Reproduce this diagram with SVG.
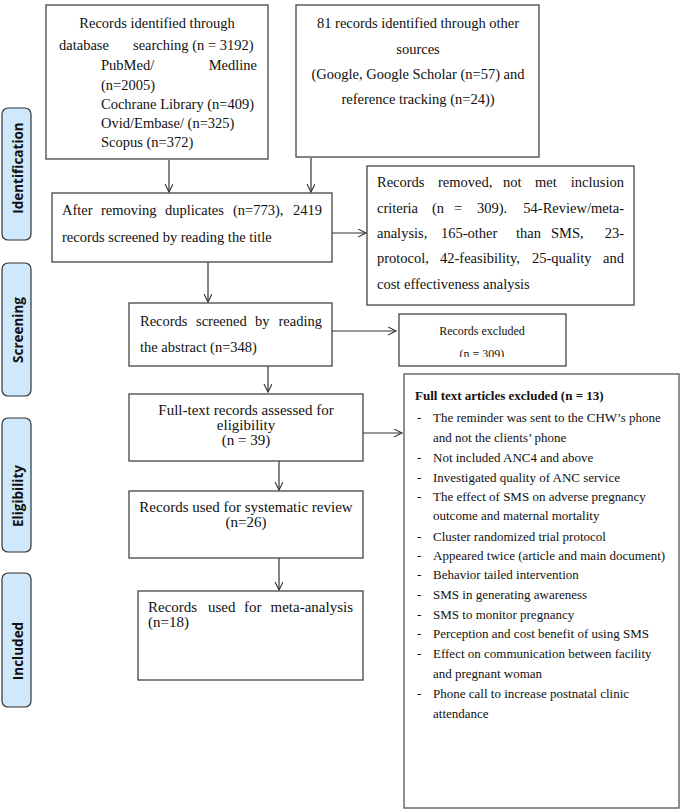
<svg xmlns="http://www.w3.org/2000/svg" width="685" height="811" viewBox="0 0 685 811">
<defs>
<style>
.box{fill:#fff;stroke:#444;stroke-width:1.3}
.side{fill:#cfe8fb;stroke:#333;stroke-width:1.2}
.t{font-family:"Liberation Serif","Times New Roman",serif;font-size:14.5px;fill:#111}
.b8{font-family:"Liberation Serif","Times New Roman",serif;font-size:13px;fill:#111}
.s{font-family:"Open Sans","Noto Sans",sans-serif;font-size:13.5px;font-weight:bold;fill:#111}
.c{text-anchor:middle}
.e{text-anchor:end}
.ln{stroke:#333;stroke-width:1.2;fill:none}
</style>
<marker id="ah" markerWidth="10" markerHeight="10" refX="8" refY="4" orient="auto" markerUnits="userSpaceOnUse">
<path d="M0,0 L8,4 L0,8" fill="none" stroke="#333" stroke-width="1.1"/>
</marker>
<clipPath id="clip6"><rect x="399" y="314" width="167" height="43"/></clipPath>
</defs>
<rect width="685" height="811" fill="#fff"/>

<g id="side-identification"><rect class="side" x="2" y="108" width="29" height="132" rx="6"/><text class="s c" transform="translate(22.5,168) rotate(-90)">Identification</text></g>
<g id="side-screening"><rect class="side" x="2" y="263" width="29" height="133" rx="6"/><text class="s c" transform="translate(22.5,330) rotate(-90)">Screening</text></g>
<g id="side-eligibility"><rect class="side" x="2" y="418" width="29" height="134" rx="6"/><text class="s c" transform="translate(22.5,496) rotate(-90)">Eligibility</text></g>
<g id="side-included"><rect class="side" x="2" y="573" width="29" height="134" rx="6"/><text class="s c" transform="translate(22.5,651) rotate(-90)">Included</text></g>

<g id="connectors">
<line class="ln" x1="169" y1="160" x2="169" y2="192" marker-end="url(#ah)"/>
<line class="ln" x1="311" y1="158" x2="311" y2="192" marker-end="url(#ah)"/>
<line class="ln" x1="332" y1="233" x2="366" y2="233" marker-end="url(#ah)"/>
<line class="ln" x1="208" y1="262" x2="208" y2="302" marker-end="url(#ah)"/>
<line class="ln" x1="332" y1="331" x2="396" y2="331" marker-end="url(#ah)"/>
<line class="ln" x1="268" y1="366" x2="268" y2="392" marker-end="url(#ah)"/>
<line class="ln" x1="363" y1="433" x2="402" y2="433" marker-end="url(#ah)"/>
<line class="ln" x1="279" y1="461" x2="279" y2="490" marker-end="url(#ah)"/>
<line class="ln" x1="279" y1="558" x2="279" y2="590" marker-end="url(#ah)"/>
</g>

<g id="db-search">
<rect class="box" x="46" y="5" width="222" height="154"/>
<text class="t c" x="157" y="28">Records identified through</text>
<text class="t" y="50"><tspan x="59">database</tspan><tspan x="133">searching (n = 3192)</tspan></text>
<text class="t" x="101" y="70">PubMed/</text>
<text class="t e" x="257" y="70">Medline</text>
<text class="t" x="101" y="90">(n=2005)</text>
<text class="t" x="101" y="109">Cochrane Library (n=409)</text>
<text class="t" x="101" y="128">Ovid/Embase/ (n=325)</text>
<text class="t" x="101" y="147">Scopus (n=372)</text>
</g>

<g id="other-sources">
<rect class="box" x="296" y="5" width="243" height="152"/>
<text class="t c" x="418" y="28">81 records identified through other</text>
<text class="t c" x="418" y="54">sources</text>
<text class="t c" x="418" y="79">(Google, Google Scholar (n=57) and</text>
<text class="t c" x="418" y="104">reference tracking (n=24))</text>
</g>

<g id="after-duplicates">
<rect class="box" x="52" y="193" width="280" height="69"/>
<text class="t" y="215"><tspan x="62">After</tspan><tspan x="101">removing</tspan><tspan x="165">duplicates</tspan><tspan x="233">(n=773),</tspan></text>
<text class="t e" x="322" y="215">2419</text>
<text class="t" x="62" y="242">records screened by reading the title</text>
</g>

<g id="records-removed">
<rect class="box" x="367" y="166" width="267" height="139"/>
<text class="t" y="187"><tspan x="377">Records</tspan><tspan x="438">removed,</tspan><tspan x="503">not</tspan><tspan x="535">met</tspan></text>
<text class="t e" x="624" y="187">inclusion</text>
<text class="t" y="213"><tspan x="377">criteria</tspan><tspan x="432">(n</tspan><tspan x="454">=</tspan><tspan x="477">309).</tspan></text>
<text class="t e" x="624" y="213">54-Review/meta-</text>
<text class="t" y="238"><tspan x="377">analysis,</tspan><tspan x="441">165-other</tspan><tspan x="516">than</tspan><tspan x="551">SMS,</tspan></text>
<text class="t e" x="624" y="238">23-</text>
<text class="t" y="263"><tspan x="377">protocol,</tspan><tspan x="440">42-feasibility,</tspan><tspan x="532">25-quality</tspan></text>
<text class="t e" x="624" y="263">and</text>
<text class="t" x="377" y="289">cost effectiveness analysis</text>
</g>

<g id="screened-abstract">
<rect class="box" x="129" y="303" width="203" height="63"/>
<text class="t" y="326"><tspan x="140">Records</tspan><tspan x="196">screened</tspan><tspan x="255">by</tspan></text>
<text class="t e" x="322" y="326">reading</text>
<text class="t" x="140" y="352">the abstract (n=348)</text>
</g>

<g id="records-excluded">
<rect class="box" x="399" y="314" width="167" height="52"/>
<g clip-path="url(#clip6)">
<text class="t c" x="482" y="335" style="font-size:12px">Records excluded</text>
<text class="t c" x="482" y="358" style="font-size:12px">(n = 309)</text>
</g>
</g>

<g id="full-text">
<rect class="box" x="129" y="394" width="234" height="67"/>
<text class="t c" x="246" y="415" style="font-size:15px">Full-text records assessed for</text>
<text class="t c" x="246" y="430" style="font-size:15px">eligibility</text>
<text class="t c" x="246" y="445" style="font-size:15px">(n = 39)</text>
</g>

<g id="systematic-review">
<rect class="box" x="129" y="491" width="234" height="67"/>
<text class="t c" x="246" y="512" style="font-size:15px">Records used for systematic review</text>
<text class="t c" x="246" y="527" style="font-size:15px">(n=26)</text>
</g>

<g id="meta-analysis">
<rect class="box" x="138" y="591" width="225" height="89"/>
<text class="t" y="612" style="font-size:15px"><tspan x="148">Records</tspan><tspan x="208">used</tspan><tspan x="244">for</tspan></text>
<text class="t e" x="353" y="612" style="font-size:15px">meta-analysis</text>
<text class="t" x="148" y="627" style="font-size:15px">(n=18)</text>
</g>

<g id="fulltext-excluded">
<rect class="box" x="404" y="374" width="275" height="434" style="stroke:#555"/>
<text class="b8" x="415" y="400" font-weight="bold">Full text articles excluded (n = 13)</text>
<g class="b8">
<text x="417" y="422">-</text><text x="433" y="422">The reminder was sent to the CHW’s phone</text>
<text x="433" y="442">and not the clients’ phone</text>
<text x="417" y="462">-</text><text x="433" y="462">Not included ANC4 and above</text>
<text x="417" y="482">-</text><text x="433" y="482">Investigated quality of ANC service</text>
<text x="417" y="501">-</text><text x="433" y="501">The effect of SMS on adverse pregnancy</text>
<text x="433" y="520">outcome and maternal mortality</text>
<text x="417" y="541">-</text><text x="433" y="541">Cluster randomized trial protocol</text>
<text x="417" y="560">-</text><text x="433" y="560">Appeared twice (article and main document)</text>
<text x="417" y="579">-</text><text x="433" y="579">Behavior tailed intervention</text>
<text x="417" y="599">-</text><text x="433" y="599">SMS in generating awareness</text>
<text x="417" y="619">-</text><text x="433" y="619">SMS to monitor pregnancy</text>
<text x="417" y="638">-</text><text x="433" y="638">Perception and cost benefit of using SMS</text>
<text x="417" y="658">-</text><text x="433" y="658">Effect on communication between facility</text>
<text x="433" y="678">and pregnant woman</text>
<text x="417" y="698">-</text><text x="433" y="698">Phone call to increase postnatal clinic</text>
<text x="433" y="718">attendance</text>
</g>
</g>
</svg>
